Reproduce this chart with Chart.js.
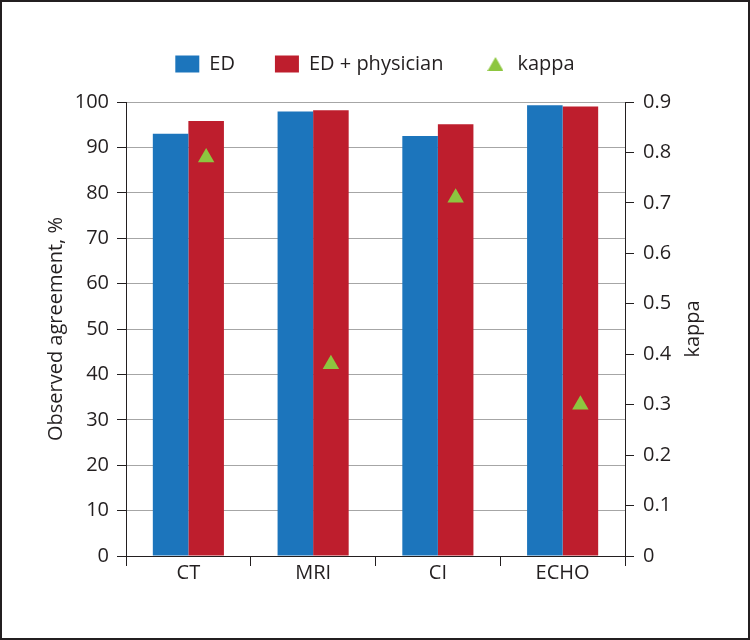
<!DOCTYPE html>
<html lang="en">
<head>
    <meta charset="UTF-8">
    <title>Observed agreement</title>
    <style>
        body {
            margin: 0;
            background: #ffffff;
        }
        .frame {
            width: 750px;
            height: 640px;
            box-sizing: border-box;
            border: 2px solid #231f20;
            position: relative;
        }
    </style>
    <script src="https://cdn.jsdelivr.net/npm/chart.js"></script>
</head>
<body>

<div class="frame">
    <canvas id="agreementChart"></canvas>
</div>

<script>
    // Data
    const categories = ['CT', 'MRI', 'CI', 'ECHO'];
    const edValues = [93.0, 97.9, 92.5, 99.3];
    const edPhysicianValues = [95.8, 98.2, 95.1, 99.0];
    const kappaValues = [0.79, 0.38, 0.71, 0.30];

    const textColor = '#231f20';
    const blue = '#1c75bc';
    const red = '#be1e2d';
    const green = '#8dc63f';

    Chart.defaults.font.family = "'Open Sans', sans-serif";
    Chart.defaults.font.size = 20;
    Chart.defaults.color = textColor;

    // small triangle used as the legend symbol for kappa
    function makeTriangle(w, h, color) {
        const c = document.createElement('canvas');
        c.width = w;
        c.height = h;
        const g = c.getContext('2d');
        g.fillStyle = color;
        g.beginPath();
        g.moveTo(w / 2, 0);
        g.lineTo(w, h);
        g.lineTo(0, h);
        g.closePath();
        g.fill();
        return c;
    }
    const legendTriangle = makeTriangle(16, 14, green);

    // put each kappa marker over the "ED + physician" bar
    const kappaOnBar = {
        id: 'kappaOnBar',
        afterDatasetsUpdate(chart) {
            const bars = chart.getDatasetMeta(1).data;
            chart.getDatasetMeta(2).data.forEach((pt, i) => {
                if (bars[i]) pt.x = bars[i].x;
            });
        }
    };

    // extra space under the legend
    const legendSpace = {
        id: 'legendSpace',
        beforeInit(chart) {
            const legend = chart.legend;
            const fit = legend.fit;
            legend.fit = function () {
                fit.call(this);
                this.height += 18;
            };
        }
    };

    // right axis title reads bottom to top
    const rightTitle = {
        id: 'rightTitle',
        afterDraw(chart) {
            const ctx = chart.ctx;
            const area = chart.chartArea;
            ctx.save();
            ctx.translate(691, (area.top + area.bottom) / 2);
            ctx.rotate(-Math.PI / 2);
            ctx.font = "20px 'Open Sans', sans-serif";
            ctx.fillStyle = textColor;
            ctx.textAlign = 'center';
            ctx.textBaseline = 'middle';
            ctx.fillText('kappa', 0, 0);
            ctx.restore();
        }
    };

    const ctx = document.getElementById('agreementChart').getContext('2d');
    new Chart(ctx, {
        type: 'bar',
        data: {
            labels: categories,
            datasets: [{
                label: 'ED',
                data: edValues,
                backgroundColor: blue,
                yAxisID: 'y',
                order: 1,
                pointStyle: 'rect'
            }, {
                label: 'ED + physician',
                data: edPhysicianValues,
                backgroundColor: red,
                yAxisID: 'y',
                order: 1,
                pointStyle: 'rect'
            }, {
                type: 'line',
                label: 'kappa',
                data: kappaValues,
                yAxisID: 'y1',
                showLine: false,
                pointStyle: 'triangle',
                pointRadius: 9.5,
                backgroundColor: green,
                borderColor: green,
                borderWidth: 0,
                order: 0
            }]
        },
        options: {
            responsive: true,
            maintainAspectRatio: false,
            animation: false,
            categoryPercentage: 0.57,
            barPercentage: 1.0,
            layout: {
                padding: { top: 12, left: 0, right: 0, bottom: 0 }
            },
            scales: {
                x: {
                    afterFit(scale) { scale.height = 82; },
                    grid: {
                        drawOnChartArea: false,
                        drawTicks: true,
                        tickLength: 10,
                        tickColor: textColor
                    },
                    border: { color: textColor, width: 1 },
                    ticks: { padding: -5 }
                },
                y: {
                    position: 'left',
                    min: 0,
                    max: 100,
                    afterFit(scale) { scale.width = 124; },
                    ticks: { stepSize: 10, padding: 8 },
                    grid: {
                        color: '#a6a6a6',
                        tickColor: textColor,
                        tickLength: 9
                    },
                    border: { color: textColor, width: 1 },
                    title: {
                        display: true,
                        text: 'Observed agreement, %',
                        padding: { top: 42 }
                    }
                },
                y1: {
                    position: 'right',
                    min: 0,
                    max: 0.9,
                    afterFit(scale) { scale.width = 123; },
                    ticks: { stepSize: 0.1, padding: 9 },
                    grid: {
                        drawOnChartArea: false,
                        tickColor: textColor,
                        tickLength: 9
                    },
                    border: { color: textColor, width: 1 }
                }
            },
            plugins: {
                legend: {
                    position: 'top',
                    labels: {
                        usePointStyle: true,
                        pointStyleWidth: 24,
                        boxHeight: 17,
                        padding: 40,
                        sort: (a, b) => a.datasetIndex - b.datasetIndex,
                        generateLabels(chart) {
                            const items = Chart.defaults.plugins.legend.labels.generateLabels(chart);
                            items.forEach(item => {
                                if (item.datasetIndex === 2) item.pointStyle = legendTriangle;
                                else item.pointStyle = 'rect';
                                item.lineWidth = 0;
                            });
                            return items;
                        }
                    }
                },
                tooltip: { enabled: false }
            }
        },
        plugins: [kappaOnBar, legendSpace, rightTitle]
    });
</script>

</body>
</html>
